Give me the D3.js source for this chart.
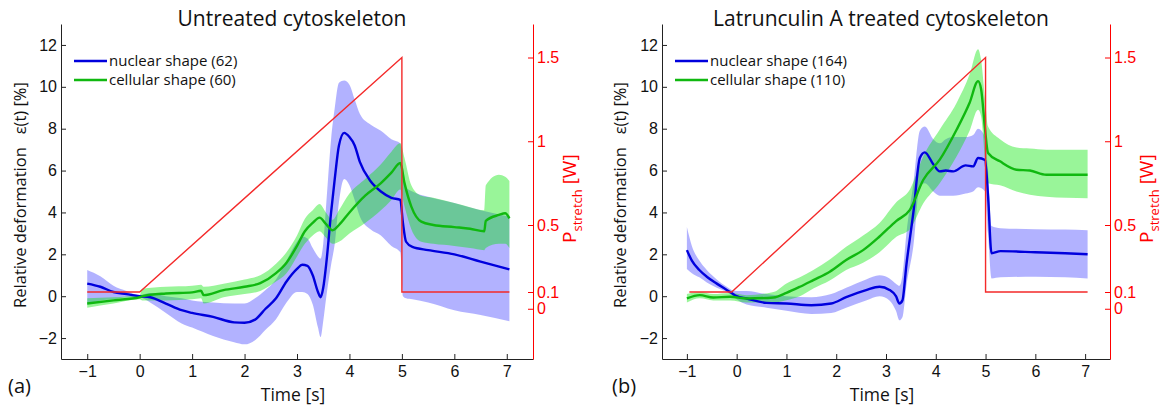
<!DOCTYPE html>
<html>
<head>
<meta charset="utf-8">
<script src="https://cdn.jsdelivr.net/npm/d3@7"></script>
<style>
  body { margin: 0; background: #fff; }
  svg { font-family: "Open Sans", "DejaVu Sans", sans-serif; }
</style>
</head>
<body>
<svg width="1162" height="407"></svg>
<script>
// rows are [time, mean, lower, upper]
var nuclearA = [
  [-1.0, 0.6, -0.4, 1.25], [-0.75, 0.45, -0.2, 0.95], [-0.5, 0.2, -0.15, 0.5], [-0.25, 0.1, -0.05, 0.25],
  [0, 0.0, -0.05, 0.05], [0.2, -0.05, -0.3, 0.15], [0.5, -0.35, -0.8, 0.0], [0.8, -0.67, -1.3, -0.1],
  [1.0, -0.8, -1.5, -0.2], [1.4, -0.99, -1.9, -0.3], [1.8, -1.25, -2.2, -0.35], [2.0, -1.27, -2.3, -0.35],
  [2.2, -1.12, -2.1, -0.1], [2.4, -0.6, -1.6, 0.3], [2.6, -0.1, -1.1, 0.8], [2.8, 0.7, -0.3, 1.7],
  [3.0, 1.3, 0.2, 2.6], [3.1, 1.5, 0.2, 2.85], [3.2, 1.45, 0.1, 2.75], [3.3, 1.0, -0.4, 2.3],
  [3.4, 0.2, -1.5, 1.9], [3.45, -0.05, -1.95, 1.8], [3.5, 0.4, -1.2, 2.5], [3.56, 1.6, 0.0, 4.5],
  [3.65, 4.0, 1.5, 7.5], [3.72, 5.6, 2.5, 9.0], [3.8, 7.2, 4.5, 10.2], [3.9, 7.8, 5.6, 10.3],
  [4.0, 7.6, 5.3, 10.1], [4.1, 7.2, 4.6, 9.4], [4.2, 6.4, 3.8, 8.7], [4.4, 5.5, 3.2, 8.2],
  [4.6, 5.0, 2.9, 7.9], [4.8, 4.7, 2.4, 7.5], [4.97, 4.6, 2.1, 7.3], [5.02, 3.5, 0.0, 6.2],
  [5.08, 2.6, -0.1, 5.2], [5.2, 2.35, -0.15, 5.0], [5.5, 2.2, -0.3, 4.75], [6.0, 2.0, -0.67, 4.45],
  [6.5, 1.65, -0.9, 4.1], [7.05, 1.28, -1.2, 3.8]
];
var cellularA = [
  [-1.0, -0.35, -0.55, -0.1], [-0.5, -0.2, -0.35, -0.05], [0, -0.05, -0.15, 0.05], [0.05, 0.0, -0.2, 0.35],
  [0.5, 0.13, -0.2, 0.45], [1.0, 0.18, -0.15, 0.5], [1.17, 0.26, -0.1, 0.55], [1.22, 0.05, -0.35, 0.45],
  [1.6, 0.29, -0.05, 0.6], [2.0, 0.45, 0.1, 0.8], [2.3, 0.62, 0.25, 1.0], [2.6, 1.1, 0.7, 1.55],
  [2.8, 1.6, 1.1, 2.1], [3.0, 2.4, 1.9, 2.9], [3.15, 3.1, 2.5, 3.7], [3.3, 3.5, 2.9, 4.1],
  [3.43, 3.75, 3.1, 4.4], [3.55, 3.45, 2.8, 4.0], [3.68, 3.15, 2.5, 3.65], [3.8, 3.4, 2.6, 4.1],
  [4.0, 4.0, 3.0, 4.9], [4.3, 4.8, 3.5, 5.6], [4.6, 5.4, 4.1, 6.3], [4.8, 5.9, 4.6, 6.9],
  [4.97, 6.36, 5.1, 7.3], [5.05, 5.4, 4.3, 6.6], [5.18, 4.28, 3.2, 5.3], [5.37, 3.56, 2.6, 4.8],
  [5.6, 3.4, 2.5, 4.7], [6.0, 3.3, 2.4, 4.45], [6.3, 3.22, 2.3, 4.25], [6.57, 3.1, 2.2, 4.1],
  [6.6, 3.6, 2.3, 5.3], [6.85, 3.88, 2.5, 5.8], [6.97, 3.96, 2.5, 5.7], [7.05, 3.72, 2.3, 5.5]
];
var nuclearB = [
  [-1.0, 2.2, 1.3, 3.3], [-0.9, 1.7, 1.1, 2.4], [-0.75, 1.25, 0.9, 1.7], [-0.6, 0.93, 0.65, 1.25],
  [-0.4, 0.6, 0.4, 0.8], [-0.2, 0.3, 0.2, 0.45], [-0.1, 0.15, 0.05, 0.3], [0, 0.0, -0.15, 0.25],
  [0.2, -0.11, -0.4, 0.25], [0.6, -0.32, -0.55, 0.1], [1.0, -0.35, -0.7, 0.0], [1.5, -0.43, -0.85, -0.05],
  [1.9, -0.35, -0.8, 0.1], [2.2, -0.05, -0.55, 0.4], [2.6, 0.29, -0.2, 0.8], [2.87, 0.45, 0.0, 1.0],
  [3.07, 0.3, -0.2, 0.85], [3.2, 0.0, -0.7, 0.6], [3.27, -0.35, -1.15, 0.5], [3.33, -0.2, -1.0, 1.0],
  [3.41, 1.5, 0.5, 3.0], [3.55, 4.0, 2.4, 5.4], [3.68, 6.6, 5.3, 7.9], [3.78, 6.87, 5.4, 8.1],
  [3.95, 6.3, 5.0, 7.5], [4.08, 5.96, 4.8, 7.3], [4.2, 6.0, 4.8, 7.5], [4.35, 5.96, 4.8, 7.6],
  [4.6, 6.25, 4.9, 7.6], [4.75, 6.2, 5.0, 7.7], [4.85, 6.6, 5.2, 8.0], [4.99, 6.5, 5.0, 7.6],
  [5.05, 4.8, 3.0, 6.0], [5.12, 2.05, 0.85, 3.35], [5.3, 2.15, 0.9, 3.25], [6.0, 2.1, 0.93, 3.2],
  [6.6, 2.05, 0.9, 3.18], [7.05, 2.0, 0.85, 3.15]
];
var cellularB = [
  [-1.0, -0.11, -0.3, 0.1], [-0.74, 0.05, -0.1, 0.2], [-0.47, -0.06, -0.2, 0.1], [-0.13, -0.03, -0.2, 0.15],
  [0.2, -0.11, -0.3, 0.05], [0.74, -0.06, -0.3, 0.2], [1.0, 0.16, -0.19, 0.61], [1.27, 0.45, 0.0, 0.9],
  [1.54, 0.77, 0.37, 1.25], [1.87, 1.17, 0.75, 1.75], [2.2, 1.73, 1.25, 2.36], [2.54, 2.2, 1.6, 2.9],
  [2.87, 2.85, 2.1, 3.5], [3.21, 3.6, 2.84, 4.5], [3.48, 4.12, 3.2, 5.1], [3.75, 5.56, 4.44, 6.68],
  [4.08, 6.52, 5.4, 7.96], [4.42, 7.96, 6.68, 9.24], [4.68, 9.24, 7.9, 10.6], [4.85, 10.27, 8.9, 11.8],
  [4.91, 9.9, 8.6, 11.3], [4.99, 7.96, 6.6, 9.4], [5.05, 6.84, 5.4, 8.1], [5.29, 6.44, 5.3, 7.5],
  [5.62, 6.04, 5.0, 7.1], [5.89, 6.0, 4.85, 7.05], [6.22, 5.8, 4.75, 7.0], [6.62, 5.8, 4.7, 7.0],
  [7.05, 5.8, 4.68, 7.0]
];
// stretch power [time, W]
var powerA = [[-1, 0.1], [0, 0.1], [5, 1.5], [5, 0.1], [7.05, 0.1]];
var powerB = [[-0.95, 0.1], [-0.1, 0.1], [5, 1.5], [5, 0.1], [7.05, 0.1]];

var timeTicks = [-1, 0, 1, 2, 3, 4, 5, 6, 7];
var defTicks = [-2, 0, 2, 4, 6, 8, 10, 12];
var powerTicks = [0, 0.1, 0.5, 1, 1.5];

var svg = d3.select("svg");

function drawPanel(p) {
  var w = p.width, h = 335;
  var g = svg.append("g").attr("transform", "translate(" + p.left + ",24)");

  var x = d3.scaleLinear().domain([-1.5, 7.5]).range([0, w]);
  var y = d3.scaleLinear().domain([-3, 13]).range([h, 0]);
  var yR = d3.scaleLinear().domain([-0.3, 1.7]).range([h, 0]);

  var band = d3.area()
    .x(function(d) { return x(d[0]); })
    .y0(function(d) { return y(d[2]); })
    .y1(function(d) { return y(d[3]); })
    .curve(d3.curveMonotoneX);
  var mean = d3.line()
    .x(function(d) { return x(d[0]); })
    .y(function(d) { return y(d[1]); })
    .curve(d3.curveMonotoneX);

  g.append("path").attr("d", band(p.nuclear)).attr("fill", "#0000ff").attr("fill-opacity", 0.3);
  g.append("path").attr("d", band(p.cellular)).attr("fill", "#00e600").attr("fill-opacity", 0.4);
  g.append("path").attr("d", mean(p.nuclear)).attr("fill", "none").attr("stroke", "#0000dd").attr("stroke-width", 2.4);
  g.append("path").attr("d", mean(p.cellular)).attr("fill", "none").attr("stroke", "#10b810").attr("stroke-width", 2.4);

  var pline = d3.line()
    .x(function(d) { return x(d[0]); })
    .y(function(d) { return yR(d[1]); });
  g.append("path").attr("d", pline(p.power)).attr("fill", "none").attr("stroke", "#f42a2a").attr("stroke-width", 1.4);

  // axes, MATLAB style inward ticks
  var xAxis = g.append("g").attr("transform", "translate(0," + h + ")")
    .call(d3.axisBottom(x).tickValues(timeTicks).tickSizeInner(-5).tickSizeOuter(0).tickPadding(7));
  var yAxis = g.append("g")
    .call(d3.axisLeft(y).tickValues(defTicks).tickSizeInner(-5).tickSizeOuter(0).tickPadding(4));
  var rAxis = g.append("g").attr("transform", "translate(" + w + ",0)")
    .call(d3.axisRight(yR).tickValues(powerTicks).tickFormat(d3.format("")).tickSizeInner(-5).tickSizeOuter(0).tickPadding(4));

  [xAxis, yAxis].forEach(function(a) {
    a.selectAll("path, line").attr("stroke", "#222");
    a.selectAll("text").attr("fill", "#111").style("font-size", "16px");
  });
  xAxis.selectAll("text").attr("dy", "0.68em");
  rAxis.selectAll("path, line").attr("stroke", "#ff0000");
  rAxis.selectAll("text").attr("fill", "#ff0000").style("font-size", "16px");

  g.append("text").attr("x", w / 2 - 5).attr("y", 2)
    .attr("text-anchor", "middle").style("font-size", "21px").attr("fill", "#111")
    .text(p.title);

  g.append("text").attr("x", w / 2 - 4).attr("y", 377)
    .attr("text-anchor", "middle").style("font-size", "17.5px").attr("fill", "#111")
    .text("Time [s]");

  g.append("text").attr("x", p.tagX).attr("y", 369)
    .style("font-size", "20px").attr("fill", "#111")
    .text(p.tag);

  g.append("text")
    .attr("transform", "translate(" + p.ylabX + ",171)rotate(-90)")
    .attr("text-anchor", "middle").style("font-size", "16.5px").attr("fill", "#111")
    .attr("xml:space", "preserve")
    .text("Relative deformation   \u03b5(t) [%]");

  var rl = g.append("text")
    .attr("transform", "translate(" + (w + 43) + ",219)rotate(-90)")
    .attr("fill", "#ff0000").attr("xml:space", "preserve");
  rl.append("tspan").style("font-size", "19px").text("P");
  rl.append("tspan").style("font-size", "13px").attr("dy", 6).text("stretch");
  rl.append("tspan").style("font-size", "19px").attr("dy", -6).text(" [W]");

  // legend
  var leg = g.append("g").attr("transform", "translate(" + p.legX + ",37)");
  [["nuclear shape (" + p.counts[0] + ")", "#0000dd"], ["cellular shape (" + p.counts[1] + ")", "#10b810"]]
    .forEach(function(item, i) {
      leg.append("line").attr("x1", 0).attr("x2", 33).attr("y1", i * 19).attr("y2", i * 19)
        .attr("stroke", item[1]).attr("stroke-width", 2.5);
      leg.append("text").attr("x", 35).attr("y", i * 19).attr("dy", "0.35em")
        .style("font-size", "15px").attr("fill", "#111").text(item[0]);
    });
}

drawPanel({ left: 61, width: 472, title: "Untreated cytoskeleton", tag: "(a)", tagX: -53, ylabX: -35,
  legX: 13, counts: [62, 60], nuclear: nuclearA, cellular: cellularA, power: powerA });
drawPanel({ left: 662, width: 448, title: "Latrunculin A treated cytoskeleton", tag: "(b)", tagX: -50, ylabX: -36,
  legX: 13, counts: [164, 110], nuclear: nuclearB, cellular: cellularB, power: powerB });
</script>
</body>
</html>
